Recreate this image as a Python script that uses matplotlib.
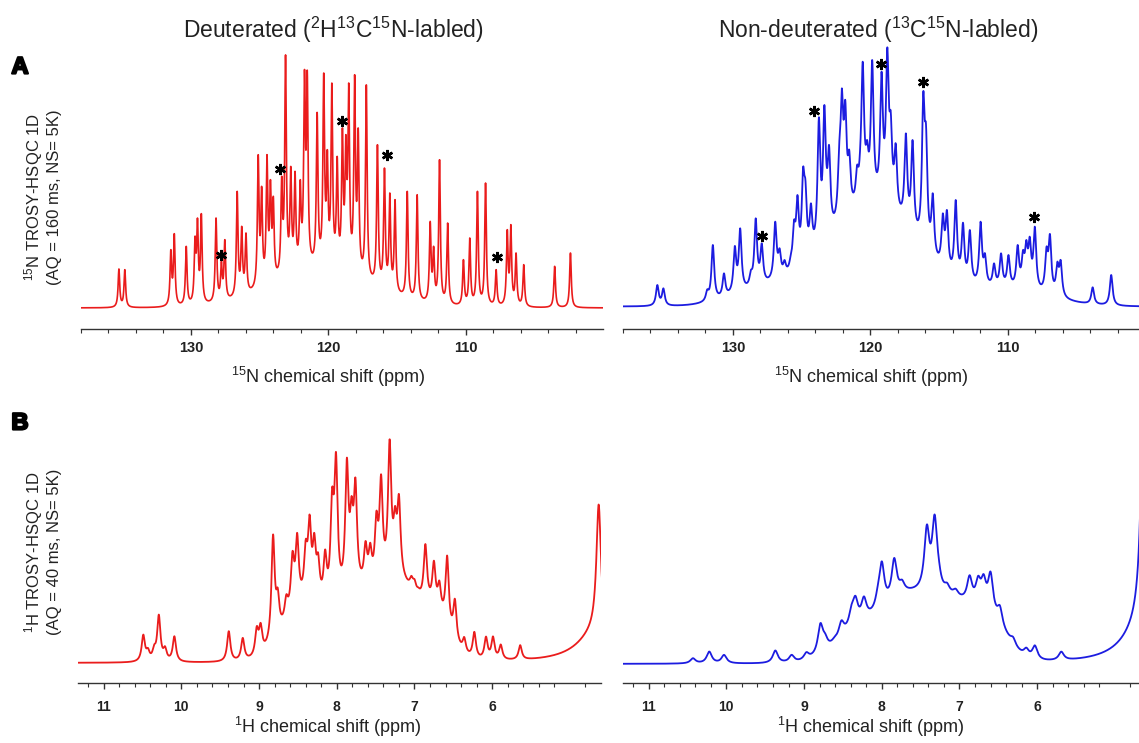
import numpy as np
import matplotlib
matplotlib.use("Agg")
import matplotlib.pyplot as plt
import matplotlib.patheffects as pe

# --- CONFIGURATION ---
W, H = 1139, 743
RED = "#ea1c1c"
BLUE = "#1c1ce0"

plt.rcParams["font.family"] = ["Liberation Sans", "DejaVu Sans"]
plt.rcParams["mathtext.fontset"] = "custom"
plt.rcParams["mathtext.rm"] = "Liberation Sans"
plt.rcParams["mathtext.default"] = "rm"

# 15N 1D, deuterated (ppm, apparent height)
n15_d_ppm = [135.24, 134.81, 131.46, 131.21, 130.34, 129.70, 129.52, 129.24, 128.17, 127.78,
             127.53, 126.63, 126.30, 125.99, 125.10, 124.85, 124.46, 124.21, 124.00, 123.39,
             123.11, 122.73, 122.42, 122.04, 121.73, 121.53, 120.81, 120.33, 120.07, 119.74,
             119.35, 118.97, 118.72, 118.51, 118.08, 117.82, 117.23, 116.42, 115.91, 115.52,
             115.14, 114.25, 113.53, 112.58, 112.33, 111.90, 111.31, 110.16, 109.70, 109.14,
             108.55, 107.78, 106.97, 106.71, 106.33, 105.77, 103.52, 102.37]
n15_d_hgt = [117, 115, 175, 223, 185, 215, 270, 283, 270, 140,
             205, 350, 245, 225, 460, 365, 460, 385, 335, 395,
             760, 425, 410, 385, 715, 713, 587, 705, 475, 675,
             455, 540, 520, 675, 700, 540, 670, 490, 420, 345,
             325, 350, 340, 260, 185, 445, 255, 145, 210, 350,
             375, 115, 235, 250, 165, 130, 125, 165]
n15_d_env = [(120.5, 110, 3.5)]
n15_d_star_ppm = [127.83, 123.49, 119.02, 115.73, 107.73]
n15_d_star_hgt = [160, 416, 560, 458, 153]

# 15N 1D, non-deuterated
n15_h_ppm = [135.50, 135.06, 131.87, 131.46, 130.65, 129.86, 129.47, 128.69, 128.34, 127.90,
             126.92, 126.60, 126.24, 125.79, 125.55, 125.30, 124.89, 124.72, 124.32, 123.74,
             123.34, 123.17, 123.00, 122.26, 122.07, 121.82, 121.53, 120.96, 120.72, 120.55,
             120.23, 119.86, 119.18, 118.76, 118.51, 118.15, 117.41, 116.92, 116.14, 115.94,
             115.45, 114.72, 114.42, 113.78, 113.25, 112.75, 111.97, 111.65, 110.99, 110.48,
             109.94, 109.27, 108.88, 108.64, 108.39, 108.02, 107.17, 106.92, 106.38, 106.14,
             103.81, 102.46]
n15_h_hgt = [65, 55, 52, 185, 100, 182, 235, 110, 265, 190,
             255, 175, 140, 155, 260, 335, 418, 380, 310, 568,
             605, 420, 485, 490, 655, 620, 470, 425, 490, 735,
             500, 740, 705, 778, 585, 490, 520, 500, 645, 545,
             340, 280, 290, 320, 252, 230, 255, 160, 130, 160,
             155, 185, 170, 200, 210, 240, 180, 218, 135, 140,
             58, 95]
n15_h_env = [(119.8, 290, 3.2), (110.0, 45, 3.0), (127.5, 45, 2.5)]
n15_h_star_ppm = [127.90, 124.08, 119.20, 116.14, 108.05]
n15_h_star_hgt = [211, 588, 728, 673, 268]

# 1H 1D, deuterated
h1_d_ppm = [10.49, 10.43, 10.35, 10.29, 10.21, 10.09, 9.39, 9.21, 9.03, 8.98,
            8.82, 8.76, 8.65, 8.57, 8.51, 8.40, 8.35, 8.29, 8.24, 8.15,
            8.06, 8.01, 7.87, 7.81, 7.76, 7.63, 7.57, 7.49, 7.43, 7.32,
            7.25, 7.20, 7.04, 7.00, 6.95, 6.86, 6.75, 6.68, 6.58, 6.48,
            6.36, 6.23, 6.08, 5.99, 5.89, 5.64]
h1_d_hgt = [85, 45, 55, 145, 50, 80, 95, 75, 110, 120,
            385, 225, 205, 335, 390, 370, 445, 390, 330, 340,
            525, 632, 615, 500, 555, 365, 360, 455, 565, 670,
            470, 505, 260, 250, 225, 355, 305, 245, 320, 190,
            75, 90, 75, 75, 50, 45]
h1_d_env = [(8.45, 150, 0.25), (7.75, 190, 0.30), (7.20, 190, 0.22), (6.75, 130, 0.20)]
h1_d_water = [(4.63, 375, 0.035), (4.63, 100, 0.30)]

# 1H 1D, non-deuterated
h1_h_ppm = [10.43, 10.22, 10.03, 9.37, 9.16, 8.97, 8.79, 8.73, 8.61, 8.52,
            8.39, 8.34, 8.23, 8.05, 8.00, 7.84, 7.74, 7.53, 7.42, 7.32,
            7.27, 7.16, 7.05, 6.93, 6.87, 6.76, 6.69, 6.60, 6.48, 6.39,
            6.31, 6.14, 6.03, 5.69]
h1_h_hgt = [17, 37, 27, 40, 27, 35, 122, 92, 80, 130,
            177, 204, 202, 237, 307, 317, 252, 237, 417, 447,
            322, 242, 224, 194, 264, 262, 267, 274, 172, 87,
            77, 44, 50, 27]
h1_h_env = [(8.30, 90, 0.30), (7.70, 160, 0.30), (7.05, 170, 0.35), (6.55, 60, 0.20)]
h1_h_water = [(4.62, 1000, 0.04), (4.62, 120, 0.30)]


def lorentz(x, c, g):
    return 1.0 / (1.0 + ((x - c) / g) ** 2)


def envelope(x, env):
    out = np.zeros_like(x, dtype=float)
    for c, h, s in env:
        out += h * np.exp(-0.5 * ((x - c) / s) ** 2)
    return out


def build_spectrum(x, ppm, hgt, gam, env, solvent=()):
    # amplitudes chosen so that the summed trace reaches the read peak heights
    pos = np.asarray(ppm, dtype=float)
    target = np.clip(np.asarray(hgt, dtype=float) - envelope(pos, env), 0, None)
    M = lorentz(pos[:, None], pos[None, :], gam)
    a = target.copy()
    for _ in range(600):
        a = np.clip(a + 0.35 * (target - M @ a), 0, None)
    y = envelope(x, env) + lorentz(x[:, None], pos[None, :], gam) @ a
    for c, A, g in solvent:
        y += A * lorentz(x, c, g)
    return y


def px_axes(fig, left, top, right, bottom):
    return fig.add_axes([left / W, 1 - bottom / H, (right - left) / W, (bottom - top) / H])


def style_axes(ax, xlim, ylim, major, minor, labelsize, pad):
    ax.set_xlim(*xlim)
    ax.set_ylim(*ylim)
    for s in ("top", "left", "right"):
        ax.spines[s].set_visible(False)
    ax.spines["bottom"].set_color("#333333")
    ax.spines["bottom"].set_linewidth(1.0)
    ax.set_yticks([])
    ax.set_xticks(major)
    ax.set_xticks(minor, minor=True)
    ax.set_xticklabels([str(m) for m in major], fontweight="bold", fontsize=labelsize,
                       color="#222222")
    ax.tick_params(axis="x", which="major", direction="out", length=4, width=1,
                   color="#333333", pad=pad)
    ax.tick_params(axis="x", which="minor", direction="out", length=3, width=0.8,
                   color="#333333")
    ax.patch.set_visible(False)


fig = plt.figure(figsize=(W / 100, H / 100), dpi=100)

n15_grid = np.linspace(138.5, 99.5, 8000)
h1_grid = np.linspace(11.5, 4.4, 8000)

n15_major = [130, 120, 110]
n15_minor = [v for v in range(102, 139, 2) if v % 10 != 0]
h1_major = [11, 10, 9, 8, 7, 6]
h1_minor = [round(v, 1) for v in np.arange(4.8, 11.25, 0.2) if abs(v - round(v)) > 0.05]

star = dict(ls="none", marker=(6, 2, 0), ms=8, mew=1.8, color="black")

# --- A: 15N ---
ax1 = px_axes(fig, 81, 45, 603, 329)
ax1.plot(n15_grid, build_spectrum(n15_grid, n15_d_ppm, n15_d_hgt, 0.07, n15_d_env),
         color=RED, lw=1.2)
ax1.plot(n15_d_star_ppm, n15_d_star_hgt, **star)
style_axes(ax1, (138, 100), (-63, 789), n15_major, n15_minor, 10.5, 5)

ax2 = px_axes(fig, 623, 45, 1145, 329)
ax2.plot(n15_grid, build_spectrum(n15_grid, n15_h_ppm, n15_h_hgt, 0.12, n15_h_env),
         color=BLUE, lw=1.3)
ax2.plot(n15_h_star_ppm, n15_h_star_hgt, **star)
style_axes(ax2, (138, 100), (-67, 785), n15_major, n15_minor, 10.5, 5)

# --- B: 1H ---
ax3 = px_axes(fig, 78, 420, 601, 683)
ax3.plot(h1_grid, build_spectrum(h1_grid, h1_d_ppm, h1_d_hgt, 0.025, h1_d_env, h1_d_water),
         color=RED, lw=1.3)
style_axes(ax3, (11.33, 4.6), (-60, 729), h1_major, h1_minor, 10, 8)

ax4 = px_axes(fig, 623, 420, 1146, 683)
ax4.plot(h1_grid, build_spectrum(h1_grid, h1_h_ppm, h1_h_hgt, 0.04, h1_h_env, h1_h_water),
         color=BLUE, lw=1.3)
style_axes(ax4, (11.33, 4.6), (-57, 732), h1_major, h1_minor, 10, 8)

# --- text ---
def ftext(x, y, s, **kw):
    return fig.text(x / W, 1 - y / H, s, ha="center", va="center", **kw)

ftext(333, 30, r"Deuterated ($^{2}$H$^{13}$C$^{15}$N-labled)", fontsize=16.5, color="#222222")
ftext(878, 30, r"Non-deuterated ($^{13}$C$^{15}$N-labled)", fontsize=16.5, color="#222222")

heavy = [pe.withStroke(linewidth=1.6, foreground="black")]
ftext(20, 67, "A", fontsize=17, fontweight="bold", path_effects=heavy)
ftext(20, 423, "B", fontsize=17, fontweight="bold", path_effects=heavy)

ftext(42, 197, "$^{15}$N TROSY-HSQC 1D\n(AQ = 160 ms, NS= 5K)", fontsize=12,
      rotation=90, multialignment="center", linespacing=1.1, color="#222222")
ftext(42, 552, "$^{1}$H TROSY-HSQC 1D\n(AQ = 40 ms, NS= 5K)", fontsize=12,
      rotation=90, multialignment="center", linespacing=1.1, color="#222222")

ftext(328, 377, "$^{15}$N chemical shift (ppm)", fontsize=13, color="#222222")
ftext(871, 377, "$^{15}$N chemical shift (ppm)", fontsize=13, color="#222222")
ftext(328, 727, "$^{1}$H chemical shift (ppm)", fontsize=13, color="#222222")
ftext(871, 727, "$^{1}$H chemical shift (ppm)", fontsize=13, color="#222222")

fig.savefig("out.png", dpi=100)
